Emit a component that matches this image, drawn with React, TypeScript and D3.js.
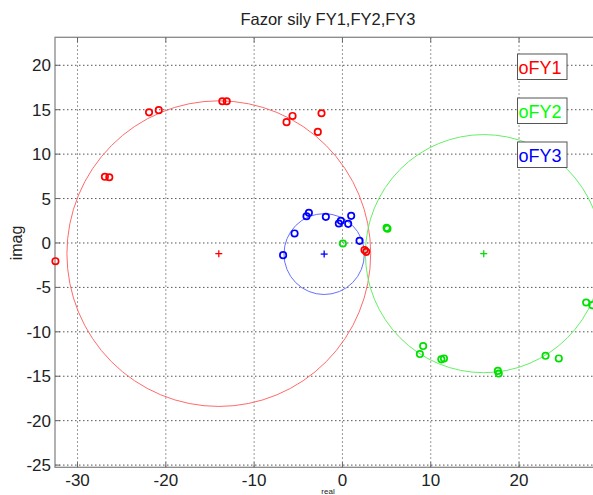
import React from "react";
import * as d3 from "d3";

const title = "Fazor sily FY1,FY2,FY3";
const xTicks = [-30, -20, -10, 0, 10, 20];
const yTicks = [20, 15, 10, 5, 0, -5, -10, -15, -20, -25];

// phasor points (real, imag)
const fy1Real = [-32.5, -26.9, -26.4, -21.9, -20.8, -13.6, -13.1, -6.33, -5.65, -2.37, -2.79, 2.5, 2.7];
const fy1Imag = [-2.05, 7.45, 7.4, 14.7, 14.95, 15.95, 15.95, 13.6, 14.3, 14.6, 12.5, -0.8, -1.0];
const fy2Real = [0.05, 5.0, 5.1, 9.14, 8.77, 11.2, 11.5, 17.6, 17.7, 23.0, 24.5, 27.6, 28.3];
const fy2Imag = [-0.06, 1.7, 1.6, -11.6, -12.5, -13.1, -13.0, -14.4, -14.7, -12.7, -13.0, -6.7, -7.0];
const fy3Real = [-6.72, -5.42, -4.07, -3.8, -1.88, -0.41, -0.18, 0.65, 0.99, 1.94];
const fy3Imag = [-1.37, 1.07, 3.01, 3.39, 2.94, 2.19, 2.49, 2.15, 3.05, 0.24];

// fitted circles: center real, center imag, radius
const circleNames = ["FY1", "FY2", "FY3"];
const circleCx = [-14.0, 16.0, -2.07];
const circleCy = [-1.2, -1.2, -1.25];
const circleR = [17.2, 13.4, 4.55];

const legendLabels = ["oFY1", "oFY2", "oFY3"];

const markerColors = ["#ff0000", "#00e000", "#0000ff"];
const textColors = ["#ff0000", "#00ff00", "#0000ff"];
const lineColors = ["#ff6a6a", "#66ee66", "#6670ff"];

export default function App() {
  const left = 55, right = 600.3, top = 37.3, bottom = 467.3;
  const x = d3.scaleLinear().domain([-32.55, 29.2]).range([left, right]);
  const y = d3.scaleLinear().domain([-25.25, 23.15]).range([bottom, top]);

  const series = [
    { re: fy1Real, im: fy1Imag },
    { re: fy2Real, im: fy2Imag },
    { re: fy3Real, im: fy3Imag },
  ];

  const font = "'Liberation Sans', Arial, sans-serif";

  return (
    <svg
      width={593}
      height={495}
      style={{ position: "absolute", left: 0, top: 0, background: "#fff" }}
      fontFamily={font}
    >
      <defs>
        <clipPath id="plotClip">
          <rect x={left} y={top} width={right - left} height={bottom - top} />
        </clipPath>
      </defs>
      <rect x={0} y={0} width={593} height={495} fill="#fff" />
      <text x={328} y={25} textAnchor="middle" fontSize={16.5} fill="#222">
        {title}
      </text>
      {/* grid */}
      {xTicks.map((t) => (
        <line
          key={"gx" + t}
          x1={x(t)}
          x2={x(t)}
          y1={top}
          y2={bottom}
          stroke="#777"
          strokeWidth={1}
          strokeDasharray="1.5,2.5"
        />
      ))}
      {yTicks.map((t) => (
        <line
          key={"gy" + t}
          x1={left}
          x2={right}
          y1={y(t)}
          y2={y(t)}
          stroke="#555"
          strokeWidth={1}
          strokeDasharray="1.5,2.5"
        />
      ))}
      {/* axes box */}
      <rect x={left} y={top} width={right - left} height={bottom - top} fill="none" stroke="#888" strokeWidth={1.3} />
      {xTicks.map((t) => (
        <g key={"tx" + t}>
          <line x1={x(t)} x2={x(t)} y1={bottom} y2={bottom - 5} stroke="#666" />
          <line x1={x(t)} x2={x(t)} y1={top} y2={top + 5} stroke="#666" />
          <text x={x(t)} y={bottom + 19} textAnchor="middle" fontSize={17} fill="#222">
            {t}
          </text>
        </g>
      ))}
      {yTicks.map((t) => (
        <g key={"ty" + t}>
          <line x1={left} x2={left + 5} y1={y(t)} y2={y(t)} stroke="#666" />
          <text x={left - 4} y={y(t) + 6} textAnchor="end" fontSize={17} fill="#222">
            {t}
          </text>
        </g>
      ))}
      <text
        transform={`translate(22,${y(0)}) rotate(-90)`}
        textAnchor="middle"
        fontSize={16}
        fill="#222"
      >
        imag
      </text>
      <text x={328} y={494} textAnchor="middle" fontSize={8} fill="#222">
        real
      </text>
      {/* fitted circles */}
      <g clipPath="url(#plotClip)">
        {circleNames.map((n, i) => (
          <ellipse
            key={"c" + n}
            cx={x(circleCx[i])}
            cy={y(circleCy[i])}
            rx={x(circleR[i]) - x(0)}
            ry={y(0) - y(circleR[i])}
            fill="none"
            stroke={lineColors[i]}
            strokeWidth={1}
          />
        ))}
      </g>
      {/* centers */}
      {circleNames.map((n, i) => {
        const cx = x(circleCx[i]);
        const cy = y(circleCy[i]);
        return (
          <g key={"p" + n} stroke={markerColors[i]} strokeWidth={1.3}>
            <line x1={cx - 3.5} x2={cx + 3.5} y1={cy} y2={cy} />
            <line x1={cx} x2={cx} y1={cy - 3.5} y2={cy + 3.5} />
          </g>
        );
      })}
      {/* markers */}
      {series.map((s, i) =>
        s.re.map((r, j) => (
          <circle
            key={"m" + i + "-" + j}
            cx={x(r)}
            cy={y(s.im[j])}
            r={3.2}
            fill="none"
            stroke={markerColors[i]}
            strokeWidth={1.7}
          />
        ))
      )}
      {/* legend text boxes */}
      {legendLabels.map((l, i) => {
        const by = 54 + i * 44;
        return (
          <g key={"l" + l}>
            <rect x={517.5} y={by} width={49.5} height={25.5} fill="#fff" stroke="#555" strokeWidth={1} />
            <text x={518.5} y={by + 19.5} fontSize={18} fill={textColors[i]}>
              {l}
            </text>
          </g>
        );
      })}
    </svg>
  );
}
